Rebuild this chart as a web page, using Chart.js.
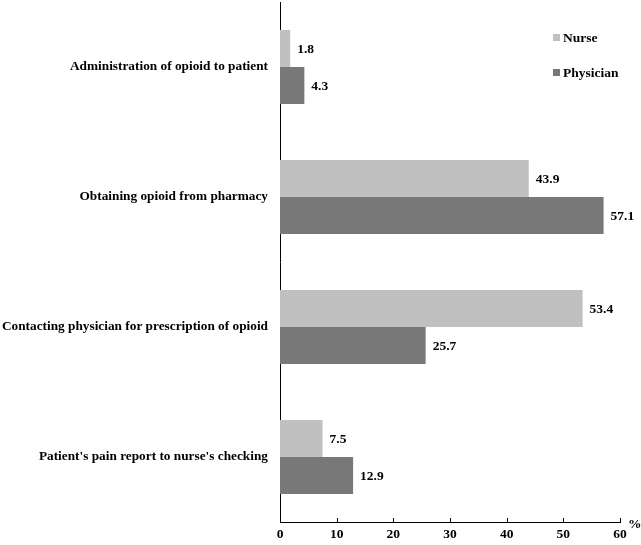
<!DOCTYPE html>
<html><head><meta charset="utf-8">
<script src="https://cdn.jsdelivr.net/npm/chart.js@4"></script>
<style>html,body{margin:0;padding:0;background:#fff}#wrap{width:641px;height:545px}</style>
</head><body><div id="wrap"><canvas id="c" width="641" height="545"></canvas></div>
<script>
const categories = ["Administration of opioid to patient","Obtaining opioid from pharmacy","Contacting physician for prescription of opioid","Patient's pain report to nurse's checking"];
const nurseValues = [1.8, 43.9, 53.4, 7.5];
const physicianValues = [4.3, 57.1, 25.7, 12.9];
const xTicks = [0,10,20,30,40,50,60];
const seriesNames = ["Nurse","Physician"];
const FONT = "'Liberation Serif','Times New Roman',serif";

const decor = {
  id:'decor',
  afterDatasetsDraw(chart){
    const ctx = chart.ctx, xs = chart.scales.x, a = chart.chartArea;
    ctx.save();
    ctx.strokeStyle='#000'; ctx.lineWidth=1;
    xTicks.forEach(v=>{const px=Math.round(xs.getPixelForValue(v))+0.5;ctx.beginPath();ctx.moveTo(px,a.bottom);ctx.lineTo(px,a.bottom-4);ctx.stroke();});
    ctx.font = "bold 13.5px "+FONT; ctx.fillStyle='#000'; ctx.textBaseline='middle'; ctx.textAlign='left';
    chart.data.datasets.forEach((ds,i)=>{
      chart.getDatasetMeta(i).data.forEach((bar,j)=>{
        ctx.fillText(ds.data[j].toFixed(1), bar.x+7, bar.y+1);
      });
    });
    ctx.fillText('%', xs.getPixelForValue(60)+8, a.bottom+3);
    chart.data.datasets.forEach((ds,i)=>{
      const y = 38 + i*35;
      ctx.fillStyle = ds.backgroundColor;
      ctx.fillRect(553, y-4, 7, 7);
      ctx.fillStyle='#000';
      ctx.fillText(ds.label, 563, y+1);
    });
    ctx.restore();
  }
};

new Chart(document.getElementById('c'), {
  type:'bar',
  data:{labels:categories,datasets:[
    {label:seriesNames[0],data:nurseValues,backgroundColor:'#c0c0c0',categoryPercentage:0.57,barPercentage:1},
    {label:seriesNames[1],data:physicianValues,backgroundColor:'#787878',categoryPercentage:0.57,barPercentage:1}
  ]},
  options:{
    indexAxis:'y', responsive:false, animation:false,
    layout:{padding:{top:2,right:21,left:0,bottom:0}},
    plugins:{legend:{display:false},tooltip:{enabled:false}},
    scales:{
      x:{min:0,max:60,afterBuildTicks(s){s.ticks=xTicks.map(v=>({value:v}));},
        afterFit(s){s.height=23;},
        grid:{display:false,drawTicks:false},
        border:{display:true,color:'#000',width:1},
        ticks:{color:'#000',padding:4,font:{family:FONT,size:13.5,weight:'bold'}}},
      y:{afterFit(s){s.width=280;s.paddingTop=0;s.paddingBottom=0;},
        grid:{display:false,drawTicks:false},
        border:{display:true,color:'#000',width:1},
        ticks:{color:'#000',padding:12,font:{family:FONT,size:13.3,weight:'bold'}}}
    }
  },
  plugins:[decor]
});
</script></body></html>
